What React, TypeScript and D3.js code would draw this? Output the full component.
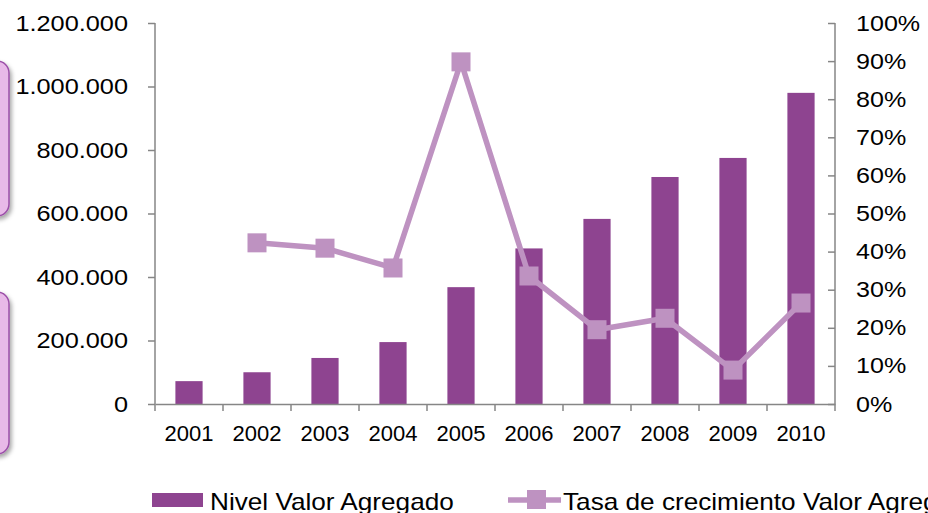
import React, { useEffect, useRef } from "react";
import * as d3 from "d3";

const years = ["2001", "2002", "2003", "2004", "2005", "2006", "2007", "2008", "2009", "2010"];
const nivel = [72000, 100000, 145000, 195000, 368000, 490000, 583000, 715000, 775000, 980000];
const tasaYears = ["2002", "2003", "2004", "2005", "2006", "2007", "2008", "2009", "2010"];
const tasa = [0.423, 0.409, 0.357, 0.898, 0.336, 0.195, 0.225, 0.089, 0.265];
const leftTicks = [0, 200000, 400000, 600000, 800000, 1000000, 1200000];
const rightTicks = [0, 0.1, 0.2, 0.3, 0.4, 0.5, 0.6, 0.7, 0.8, 0.9, 1];

const BAR = "#8E4490";
const LINE = "#BE92C1";
const AXIS = "#868686";
const FONT = "'Liberation Sans', Arial, sans-serif";

const fmtNum = (v: number) => d3.format(",")(v).replace(/,/g, ".");

// the reference text is a bit wider than the font; stretch it
function stretch(sel: d3.Selection<any, any, any, any>, k: number) {
  sel.each(function () {
    const t = this as SVGTextElement;
    const w = t.getComputedTextLength();
    if (w > 0) d3.select(t).attr("textLength", w * k).attr("lengthAdjust", "spacingAndGlyphs");
  });
}

export default function App() {
  const ref = useRef<SVGSVGElement>(null);

  useEffect(() => {
    const svg = d3.select(ref.current);
    svg.selectAll("*").remove();
    const m = { l: 155, r: 835, t: 23, b: 404 };

    // pink side boxes (partly cut off)
    const defs = svg.append("defs");
    const f = defs.append("filter").attr("id", "sh").attr("x", "-50%").attr("y", "-20%").attr("width", "200%").attr("height", "140%");
    f.append("feDropShadow").attr("dx", 2).attr("dy", 3).attr("stdDeviation", 2).attr("flood-color", "#000").attr("flood-opacity", 0.35);
    [[61, 155], [292, 162]].forEach(([y, h]) => {
      svg.append("rect").attr("x", -40).attr("y", y).attr("width", 49).attr("height", h)
        .attr("rx", 12).attr("fill", "#E8B9E8").attr("stroke", "#9B4FA8").attr("stroke-width", 1.5)
        .attr("filter", "url(#sh)");
    });

    const x = d3.scaleBand().domain(years).range([m.l, m.r]).paddingInner(0.6).paddingOuter(0.3);
    const xb = d3.scaleBand().domain(years).range([m.l, m.r]);
    const y = d3.scaleLinear().domain([0, 1200000]).range([m.b, m.t]);
    const y2 = d3.scaleLinear().domain([0, 1]).range([m.b, m.t]);

    svg.append("g").selectAll("rect").data(years).join("rect")
      .attr("x", d => x(d)!).attr("width", x.bandwidth())
      .attr("y", (d, i) => y(nivel[i])).attr("height", (d, i) => m.b - y(nivel[i]))
      .attr("fill", BAR);

    // left axis
    const gl = svg.append("g").attr("transform", `translate(${m.l},0)`)
      .call(d3.axisLeft(y).tickValues(leftTicks).tickFormat(d => fmtNum(+d)).tickSize(7).tickPadding(20));
    // right axis
    const gr = svg.append("g").attr("transform", `translate(${m.r},0)`)
      .call(d3.axisRight(y2).tickValues(rightTicks).tickFormat(d3.format(".0%")).tickSize(-7).tickPadding(21));
    // bottom axis
    const gb = svg.append("g").attr("transform", `translate(0,${m.b})`)
      .call(d3.axisBottom(xb).tickValues([]).tickSize(0));
    const edges = d3.range(years.length + 1).map(i => m.l + i * xb.step());
    gb.selectAll("line.t").data(edges).join("line").attr("class", "t")
      .attr("x1", d => d).attr("x2", d => d).attr("y1", 0).attr("y2", 7).attr("stroke", AXIS);
    gb.selectAll("text.t").data(years).join("text").attr("class", "t")
      .attr("x", d => xb(d)! + xb.bandwidth() / 2).attr("y", 37).attr("text-anchor", "middle").text(d => d);

    [gl, gr, gb].forEach(g => {
      g.selectAll(".domain").attr("stroke", AXIS).attr("stroke-width", 1.5);
      g.selectAll(".tick line").attr("stroke", AXIS).attr("stroke-width", 1.5);
      g.selectAll("text").attr("font-family", FONT).attr("font-size", 22).attr("fill", "#000");
    });
    gb.selectAll("line.t").attr("stroke-width", 1.5);
    gl.selectAll(".domain").attr("d", `M0,${m.t}V${m.b}`);
    gr.selectAll(".domain").attr("d", `M0,${m.t}V${m.b}`);
    stretch(gl.selectAll("text"), 1.15);
    stretch(gr.selectAll("text"), 1.14);

    // line series
    const cx = (d: string) => xb(d)! + xb.bandwidth() / 2;
    const pts = tasaYears.map((d, i) => [cx(d), y2(tasa[i])] as [number, number]);
    svg.append("path").attr("d", d3.line()(pts)).attr("fill", "none")
      .attr("stroke", LINE).attr("stroke-width", 5.5).attr("stroke-linejoin", "round");
    svg.append("g").selectAll("rect").data(pts).join("rect")
      .attr("x", d => d[0] - 9.5).attr("y", d => d[1] - 9.5).attr("width", 19).attr("height", 19)
      .attr("fill", LINE);

    // legend (cut off at the bottom/right edge as in the reference)
    const lg = svg.append("g").attr("font-family", FONT).attr("font-size", 24);
    lg.append("rect").attr("x", 152).attr("y", 493).attr("width", 51).attr("height", 14).attr("fill", BAR);
    lg.append("text").attr("x", 210).attr("y", 510).text("Nivel Valor Agregado");
    lg.append("line").attr("x1", 508).attr("x2", 561).attr("y1", 500).attr("y2", 500)
      .attr("stroke", LINE).attr("stroke-width", 5.5);
    lg.append("rect").attr("x", 527).attr("y", 490).attr("width", 19).attr("height", 19).attr("fill", LINE);
    lg.append("text").attr("x", 563).attr("y", 510).text("Tasa de crecimiento Valor Agregado");
    stretch(lg.selectAll("text"), 1.09);
  }, []);

  return (
    <svg ref={ref} width={928} height={513}
      style={{ position: "absolute", left: 0, top: 0, background: "#fff", overflow: "hidden" }} />
  );
}
